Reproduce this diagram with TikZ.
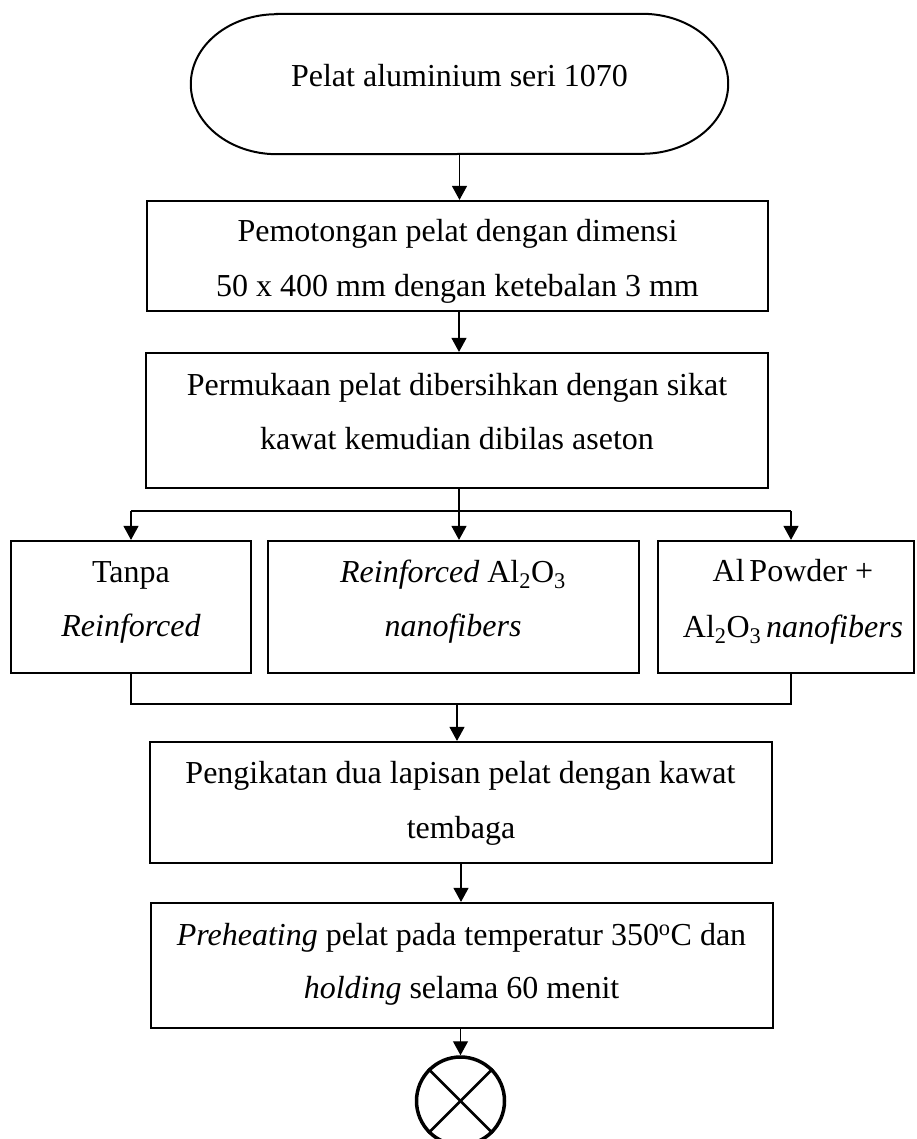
\documentclass[tikz,border=0pt]{standalone}
\usepackage{fontspec}
\setmainfont{Liberation Serif}
\usetikzlibrary{arrows.meta,calc}
\begin{document}
\begin{tikzpicture}[x=1pt,y=1pt,
  box/.style={draw, line width=2.2pt, inner sep=0pt, rectangle},
  txt/.style={inner sep=0pt, anchor=base, font=\fontsize{32}{38}\selectfont},
  arr/.style={line width=1.2pt, -{Triangle[width=15pt,length=14pt]}},
  bus/.style={line width=2pt},
  term/.style={line width=2pt}]
\useasboundingbox (0,0) rectangle (916,-1139);

% terminal
\node[inner sep=0pt, minimum width=537pt, minimum height=140pt] (start) at (459.5,-84) {};
\draw[term] ($(start.north west)+(86,0)$) -- ($(start.north east)+(-86,0)$)
  arc[start angle=90,end angle=-90,x radius=86pt,y radius=70pt]
  -- ($(start.south west)+(86,0)$)
  arc[start angle=270,end angle=90,x radius=86pt,y radius=70pt] -- cycle;
\node[txt] (startt) at (459.5,-87) {Pelat aluminium seri 1070};

% box 2
\node[box, minimum width=621pt, minimum height=110pt] (cut) at (457.5,-256) {};
\node[txt] (cutt1) at (457.5,-242) {Pemotongan pelat dengan dimensi};
\node[txt] (cutt2) at (457.5,-297) {50 x 400 mm dengan ketebalan 3 mm};

% box 3
\node[box, minimum width=622pt, minimum height=135pt] (clean) at (457,-420.5) {};
\node[txt] (cleant1) at (457,-395) {Permukaan pelat dibersihkan dengan sikat};
\node[txt] (cleant2) at (457,-449) {kawat kemudian dibilas aseton};

% three options
\node[box, minimum width=240pt, minimum height=132pt] (tanpa) at (131,-607) {};
\node[txt] (tanpat1) at (131,-582) {Tanpa};
\node[txt] (tanpat2) at (131,-636) {\textit{Reinforced}};

\node[box, minimum width=371pt, minimum height=132pt] (nano) at (453.5,-607) {};
\node[txt] (nanot1) at (453,-582) {\textit{Reinforced} Al\textsubscript{2}O\textsubscript{3}};
\node[txt] (nanot2) at (453,-636) {\textit{nanofibers}};

\node[box, minimum width=256pt, minimum height=132pt] (powder) at (786,-607) {};
\node[txt] (powdert1) at (793,-581) {Al\kern0.15em Powder +};
\node[txt] (powdert2) at (793,-637) {Al\textsubscript{2}O\textsubscript{3}\kern0.15em\textit{nanofibers}};

% box 4
\node[box, minimum width=622pt, minimum height=121pt] (ikat) at (461,-802.5) {};
\node[txt] (ikatt1) at (460.5,-783) {Pengikatan dua lapisan pelat dengan kawat};
\node[txt] (ikatt2) at (461,-838) {tembaga};

% box 5
\node[box, minimum width=622pt, minimum height=125pt] (heat) at (462,-965.5) {};
\node[txt] (heatt1) at (461.5,-945) {\textit{Preheating} pelat pada temperatur 350\textsuperscript{o}C dan};
\node[txt] (heatt2) at (461.5,-998) {\textit{holding} selama 60 menit};

% connector circle
\node[draw, circle, line width=3.5pt, minimum size=88pt, inner sep=0pt] (conn) at (460.5,-1101) {};
\draw[line width=2.6pt] (conn.north west) -- (conn.south east);
\draw[line width=2.6pt] (conn.north east) -- (conn.south west);

% connectors
\draw[arr] (start.south) -- (start.south |- cut.north);
\coordinate (split) at (459,-511);
\coordinate (splitL) at (131,-511);
\coordinate (splitR) at (791,-511);
\draw[arr] (split |- cut.south) -- (split |- clean.north);
\draw[arr] (split |- clean.south) -- (split |- nano.north);
\draw[bus] (splitL) -- (splitR);
\draw[arr] (splitL) -- (tanpa.north);
\draw[arr] (splitR) -- (splitR |- powder.north);

\coordinate (mergeL) at (131,-704);
\coordinate (mergeR) at (791,-704);
\coordinate (merge) at (457,-704);
\draw[bus] (tanpa.south) -- (mergeL) -- (mergeR) -- (mergeR |- powder.south);
\draw[arr] (merge) -- (merge |- ikat.north);
\draw[arr] (ikat.south) -- (ikat.south |- heat.north);
\draw[arr] (conn.north |- heat.south) -- (conn.north);
\end{tikzpicture}
\end{document}
